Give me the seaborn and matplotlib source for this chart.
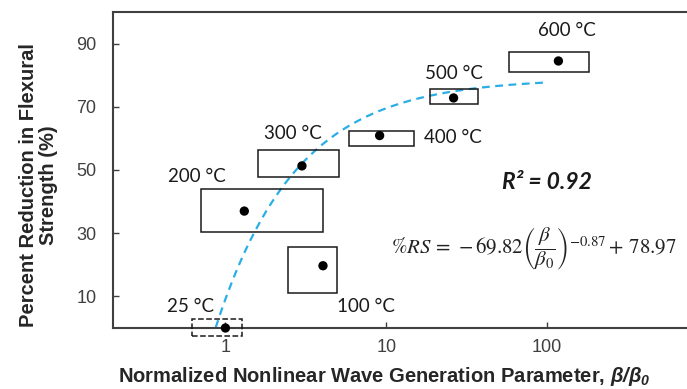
import numpy as np
import pandas as pd
import matplotlib
matplotlib.use("Agg")
import matplotlib.pyplot as plt
from matplotlib.patches import Rectangle
import seaborn as sns

# ---- data ----
temps = ["25 °C", "100 °C", "200 °C", "300 °C", "400 °C", "500 °C", "600 °C"]
beta_ratio = [1.0, 4.04, 1.31, 2.99, 9.09, 26.2, 117.5]
reduction = [0.0, 19.7, 37.0, 51.3, 60.9, 72.8, 84.5]
beta_lo = [0.62, 2.46, 0.70, 1.59, 5.83, 18.8, 58.3]
beta_hi = [1.26, 4.94, 4.02, 5.06, 14.8, 37.4, 181.5]
red_lo = [-2.6, 11.1, 30.4, 47.9, 57.7, 70.8, 80.9]
red_hi = [2.9, 25.5, 44.1, 56.3, 62.3, 75.5, 87.2]
# fit parameters shown on chart
fit_a, fit_b, fit_c = -69.82, -0.87, 78.97
fit_range = (0.87, 100)
y_ticks = [10, 30, 50, 70, 90]
x_ticks = [1, 10, 100]
x_ticklabels = ["1", "10", "100"]

df = pd.DataFrame({"temp": temps, "beta": beta_ratio, "red": reduction})

sns.set_theme(style="white")
plt.rcParams["font.family"] = ["Liberation Sans", "DejaVu Sans"]
plt.rcParams["mathtext.fontset"] = "custom"
plt.rcParams["mathtext.bf"] = "Liberation Sans:bold:italic"
plt.rcParams["mathtext.rm"] = "Liberation Sans:bold"
plt.rcParams["mathtext.it"] = "Liberation Sans:bold:italic"

fig = plt.figure(figsize=(6.87, 3.89), dpi=100)
ax = fig.add_axes([113 / 687, 1 - 328 / 389, (708 - 113) / 687, (328 - 12) / 389])
ax.set_xscale("log")
ax.set_xlim(0.2, 1000)
ax.set_ylim(0, 100)

# fit curve
xf = np.logspace(np.log10(fit_range[0]), np.log10(fit_range[1]), 200)
yf = fit_a * xf ** fit_b + fit_c
sns.lineplot(x=xf, y=yf, ax=ax, color="#29aee6", lw=1.6, linestyle=(0, (3.5, 2.5)), zorder=2)

# boxes
for i, t in enumerate(temps):
    ls = "--" if i == 0 else "-"
    ax.add_patch(Rectangle((beta_lo[i], red_lo[i]), beta_hi[i] - beta_lo[i], red_hi[i] - red_lo[i],
                           fill=False, edgecolor="#1a1a1a", lw=1.1, linestyle=ls, zorder=3, clip_on=False))

sns.scatterplot(data=df, x="beta", y="red", ax=ax, color="black", s=45, edgecolor="none", zorder=4, clip_on=False)

# labels
lab_font = dict(family=["Lato", "DejaVu Sans"], fontsize=13.5, color="#1a1a1a")
label_pos = {
    "25 °C": (0.606, 6.8),
    "100 °C": (7.51, 6.8),
    "200 °C": (0.665, 48.1),
    "300 °C": (2.63, 61.7),
    "400 °C": (25.9, 60.4),
    "500 °C": (26.4, 80.6),
    "600 °C": (133, 94.2),
}
for t in temps:
    x, y = label_pos[t]
    ax.text(x, y, t, ha="center", va="center", **lab_font)

ax.text(0.729, 0.459, "R² = 0.92", transform=ax.transAxes, ha="center", va="center",
        fontsize=16.5, fontweight="bold", fontstyle="italic", family=["Lato", "DejaVu Sans"], color="#1a1a1a")
ax.text(0.707, 0.253, r"$\%RS\,=\,-69.82\left(\dfrac{\beta}{\beta_0}\right)^{-0.87}+\,78.97$",
        transform=ax.transAxes, ha="center", va="center", fontsize=15, color="#222222",
        math_fontfamily="stix")

ax.set_xticks(x_ticks)
ax.set_xticklabels(x_ticklabels)
ax.xaxis.set_minor_locator(matplotlib.ticker.NullLocator())
ax.set_yticks(y_ticks)
ax.tick_params(axis="both", direction="in", length=4, width=1, color="#404040",
               labelsize=13, labelcolor="#404040", bottom=True, left=True)
ax.tick_params(axis="x", pad=8)
ax.tick_params(axis="y", pad=12)

for s in ["left", "bottom", "top", "right"]:
    ax.spines[s].set_color("#404040")
    ax.spines[s].set_linewidth(1.5)

ax.set_xlabel(r"Normalized Nonlinear Wave Generation Parameter, $\mathbf{\beta/\beta_0}$",
              fontsize=14.5, fontweight="bold", color="#262626")
ax.xaxis.label.set_va("center")
ax.xaxis.set_label_coords((384 - 113) / 595, -0.155)
ax.set_ylabel("Percent Reduction in Flexural\nStrength (%)", fontsize=14.5, fontweight="bold",
              color="#262626", linespacing=1.1)
ax.yaxis.label.set_va("center")
ax.yaxis.set_label_coords(-(113 - 38.5) / 595, (328 - 185) / 316)

fig.savefig("out.png", dpi=100)
